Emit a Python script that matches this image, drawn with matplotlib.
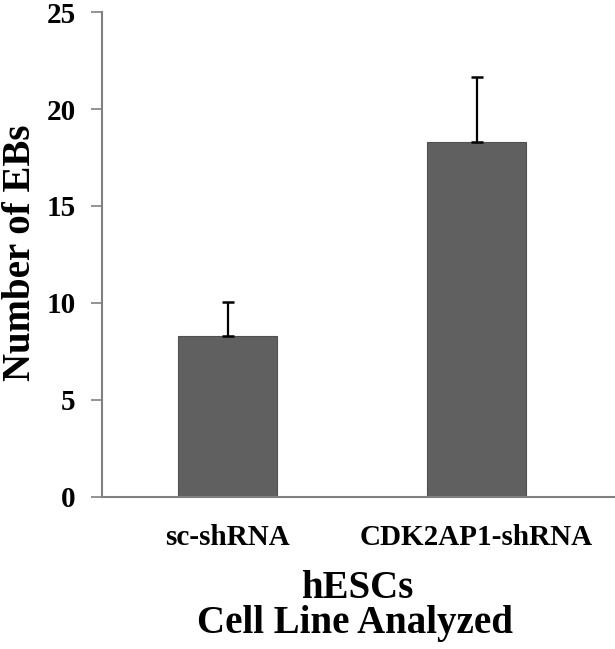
import matplotlib
matplotlib.use("Agg")
import matplotlib.pyplot as plt

# data
cell_lines = ["sc-shRNA", "CDK2AP1-shRNA"]
ebs_mean = [8.3, 18.3]
ebs_err = [1.75, 3.35]
y_ticks = [0, 5, 10, 15, 20, 25]

plt.rcParams['font.family'] = ['Liberation Serif', 'DejaVu Serif']
plt.rcParams['font.weight'] = 'bold'

fig = plt.figure(figsize=(6.15, 6.49), dpi=100)
ax = fig.add_axes([0.166, 0.2347, 0.834, 0.7466])

x = range(len(cell_lines))
ax.bar(x, ebs_mean, width=0.395, color="#606060", edgecolor="#505050", linewidth=0.8, zorder=2)
ax.errorbar(x, ebs_mean, yerr=[[0, 0], ebs_err], fmt="none", ecolor="black",
            elinewidth=1.6, capsize=4.5, capthick=1.8, zorder=3)

ax.set_xlim(-0.504, 1.556)
ax.set_ylim(0, 25)
ax.set_yticks(y_ticks)
ax.set_xticks(list(x))
ax.set_xticklabels(cell_lines, fontsize=21, fontweight="bold")
ax.tick_params(axis="x", length=0, pad=20)
ax.tick_params(axis="y", length=8, width=1.2, color="#808080", labelsize=21, pad=11)
for lbl in ax.get_yticklabels():
    lbl.set_fontweight("bold")

for side in ["top", "right"]:
    ax.spines[side].set_visible(False)
for side in ["left", "bottom"]:
    ax.spines[side].set_color("#808080")
    ax.spines[side].set_linewidth(1.5)

# axis titles placed where the reference has them
fig.text(21 / 615, 1 - 253 / 649, "Number of EBs", rotation=90, fontsize=28,
         fontweight="bold", ha="center", va="center")
fig.text(357 / 615, 1 - 598 / 649, "hESCs", fontsize=28, fontweight="bold",
         ha="center", va="baseline")
fig.text(355 / 615, 1 - 633 / 649, "Cell Line Analyzed", fontsize=28, fontweight="bold",
         ha="center", va="baseline")

fig.savefig("out.png", dpi=100)
